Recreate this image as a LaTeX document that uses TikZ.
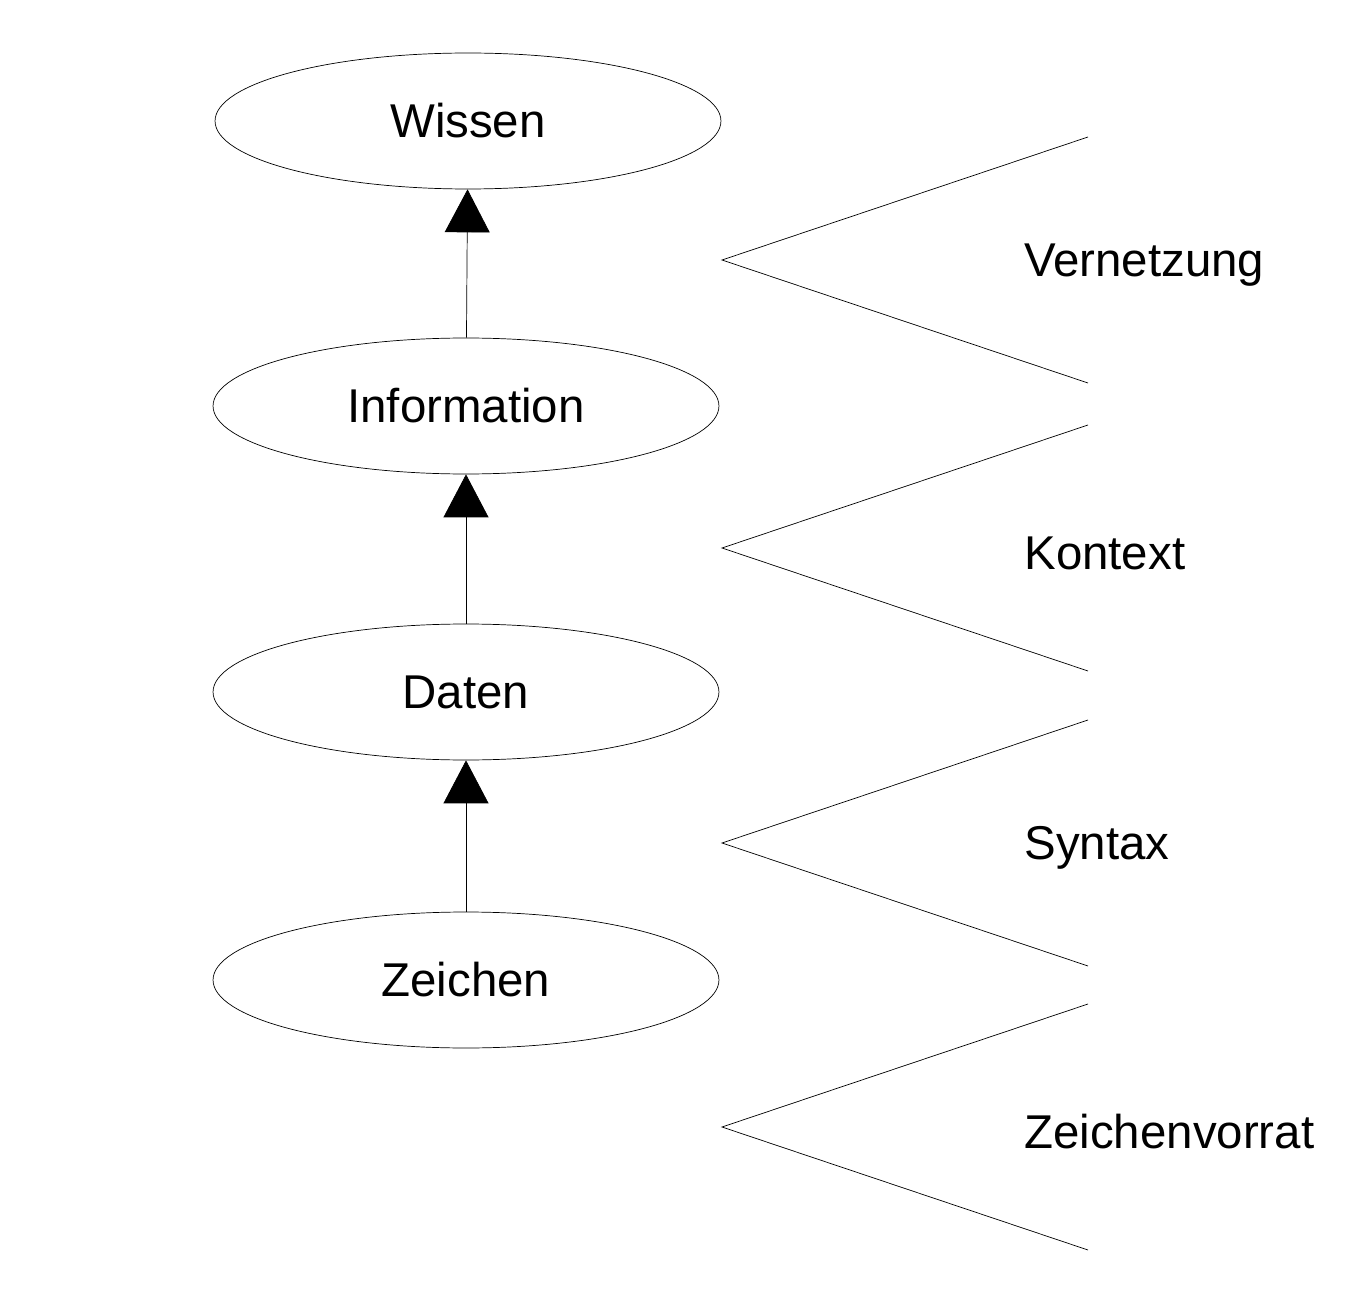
\documentclass[tikz,border=0pt]{standalone}
\usepackage{fontspec}
\setmainfont{Liberation Sans}
\usetikzlibrary{shapes.geometric,arrows.meta}
\tikzset{
  stufe/.style={draw,thin,ellipse,minimum width=10.12cm,minimum height=2.72cm,inner sep=0pt,font=\fontsize{27}{32}\selectfont},
  pfeil/.style={thin,-{Triangle[length=0.86cm,width=0.9cm]}},
  merkmal/.style={anchor=west,inner sep=0pt,font=\fontsize{27}{32}\selectfont}
}
\begin{document}
\begin{tikzpicture}[x=0.02cm,y=-0.02cm]
        \useasboundingbox (0,0) rectangle (1370,1294);

        \node[stufe] (wissen)  at (468,121) {Wissen};
        \node[stufe] (info)    at (466,406) {Information};
        \node[stufe] (daten)   at (466,692) {Daten};
        \node[stufe] (zeichen) at (466,980) {Zeichen};

        \draw[pfeil] (info)    -- (wissen);
        \draw[pfeil] (daten)   -- (info);
        \draw[pfeil] (zeichen) -- (daten);

        % Keile rechts
        \foreach \n/\y/\t in {a/260/Vernetzung,b/548/Kontext,c/843/Syntax,d/1127/Zeichenvorrat}{
          \coordinate (spitze\n) at (722,\y);
          \coordinate (oben\n)   at (1088,\y-123);
          \coordinate (unten\n)  at (1088,\y+123);
          \draw[thin] (oben\n) -- (spitze\n) -- (unten\n);
          \node[merkmal] (label\n) at (1024,\y+5) {\t};
        }
\end{tikzpicture}
\end{document}
